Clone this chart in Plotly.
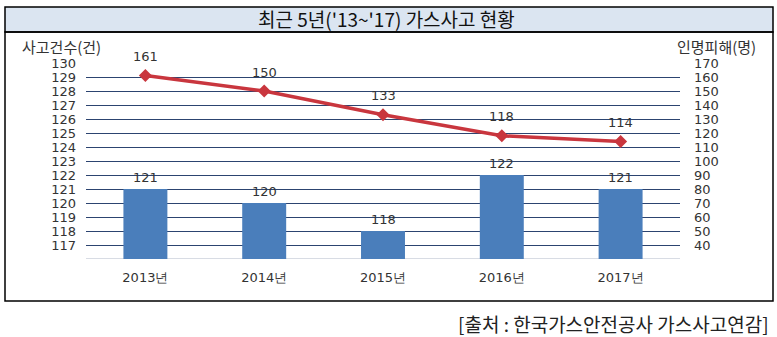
import plotly.graph_objects as go

# Gas accident statistics, 2013-2017
years = ["2013년", "2014년", "2015년", "2016년", "2017년"]
accidents = [121, 120, 118, 122, 121]          # 사고건수(건)
casualties = [161, 150, 133, 118, 114]         # 인명피해(명)

left_ticks = list(range(117, 131))
right_ticks = list(range(40, 171, 10))

W, H = 777, 337
L, R, T, B = 86, 680, 63, 259


def px(x):
    return (x - L) / (R - L)


def py(y):
    return (B - y) / (B - T)


FONT = "DejaVu Sans"
KFONT = "Noto Sans CJK KR"
TXT = "#333333"

fig = go.Figure()
fig.add_trace(go.Bar(
    x=years, y=accidents, marker=dict(color="#4a7ebb", line=dict(width=0)),
    width=0.37, yaxis="y", showlegend=False, hoverinfo="x+y",
))
fig.add_trace(go.Scatter(
    x=years, y=casualties, yaxis="y2", mode="lines+markers",
    line=dict(color="#c9363e", width=3.5),
    marker=dict(symbol="diamond", size=10, color="#c9363e"),
    showlegend=False,
))

annotations = []
for yr, v in zip(years, accidents):
    annotations.append(dict(x=yr, y=v, xref="x", yref="y", text=str(v),
                            showarrow=False, yshift=12, yanchor="middle",
                            font=dict(family=FONT, size=13, color=TXT)))
for yr, v in zip(years, casualties):
    annotations.append(dict(x=yr, y=v, xref="x", yref="y2", text=str(v),
                            showarrow=False, yshift=19, yanchor="middle",
                            font=dict(family=FONT, size=13, color=TXT)))

annotations += [
    dict(x=px(386), y=py(19), xref="paper", yref="paper", text="최근 5년('13~'17) 가스사고 현황",
         xanchor="center", yanchor="middle",
         showarrow=False, font=dict(family=KFONT, size=19, color="#111111")),
    dict(x=px(20), y=py(47), xref="paper", yref="paper", text="사고건수(건)",
         xanchor="left", yanchor="middle",
         showarrow=False, font=dict(family=KFONT, size=15, color=TXT)),
    dict(x=px(758), y=py(47), xref="paper", yref="paper", text="인명피해(명)",
         xanchor="right", yanchor="middle",
         showarrow=False, font=dict(family=KFONT, size=15, color=TXT)),
    dict(x=px(771), y=py(323), xref="paper", yref="paper", text="[출처 : 한국가스안전공사 가스사고연감]",
         xanchor="right", yanchor="middle", showarrow=False,
         font=dict(family=KFONT, size=19, color="#222222")),
]

shapes = [
    dict(type="rect", xref="paper", yref="paper", x0=px(5), x1=px(773), y0=py(7), y1=py(32),
         fillcolor="#dbe5f1", line=dict(color="#000000", width=1.5), layer="below"),
    dict(type="rect", xref="paper", yref="paper", x0=px(5), x1=px(773), y0=py(32), y1=py(301),
         fillcolor="rgba(0,0,0,0)", line=dict(color="#000000", width=1.5), layer="below"),
    dict(type="line", xref="paper", yref="y", x0=0, x1=1, y0=116, y1=116,
         line=dict(color="#b0b8c8", width=1), layer="below"),
]

fig.update_layout(
    width=W, height=H,
    margin=dict(l=L, r=W - R, t=T, b=H - B, pad=0),
    paper_bgcolor="white", plot_bgcolor="rgba(0,0,0,0)",
    xaxis=dict(showgrid=False, showline=False, zeroline=False, ticks="",
               tickfont=dict(family=FONT, size=13, color=TXT), ticklabelstandoff=9),
    yaxis=dict(range=[116, 130], tickvals=left_ticks, showgrid=True, gridcolor="#2c4470",
               gridwidth=1, zeroline=False, showline=False, ticks="",
               tickfont=dict(family=FONT, size=13, color=TXT), ticklabelstandoff=9),
    yaxis2=dict(range=[30, 170], tickvals=right_ticks, overlaying="y", side="right",
                showgrid=False, zeroline=False, showline=False, ticks="",
                tickfont=dict(family=FONT, size=13, color=TXT), ticklabelstandoff=13),
    annotations=annotations,
    shapes=shapes,
)

fig.write_html("out.html")
